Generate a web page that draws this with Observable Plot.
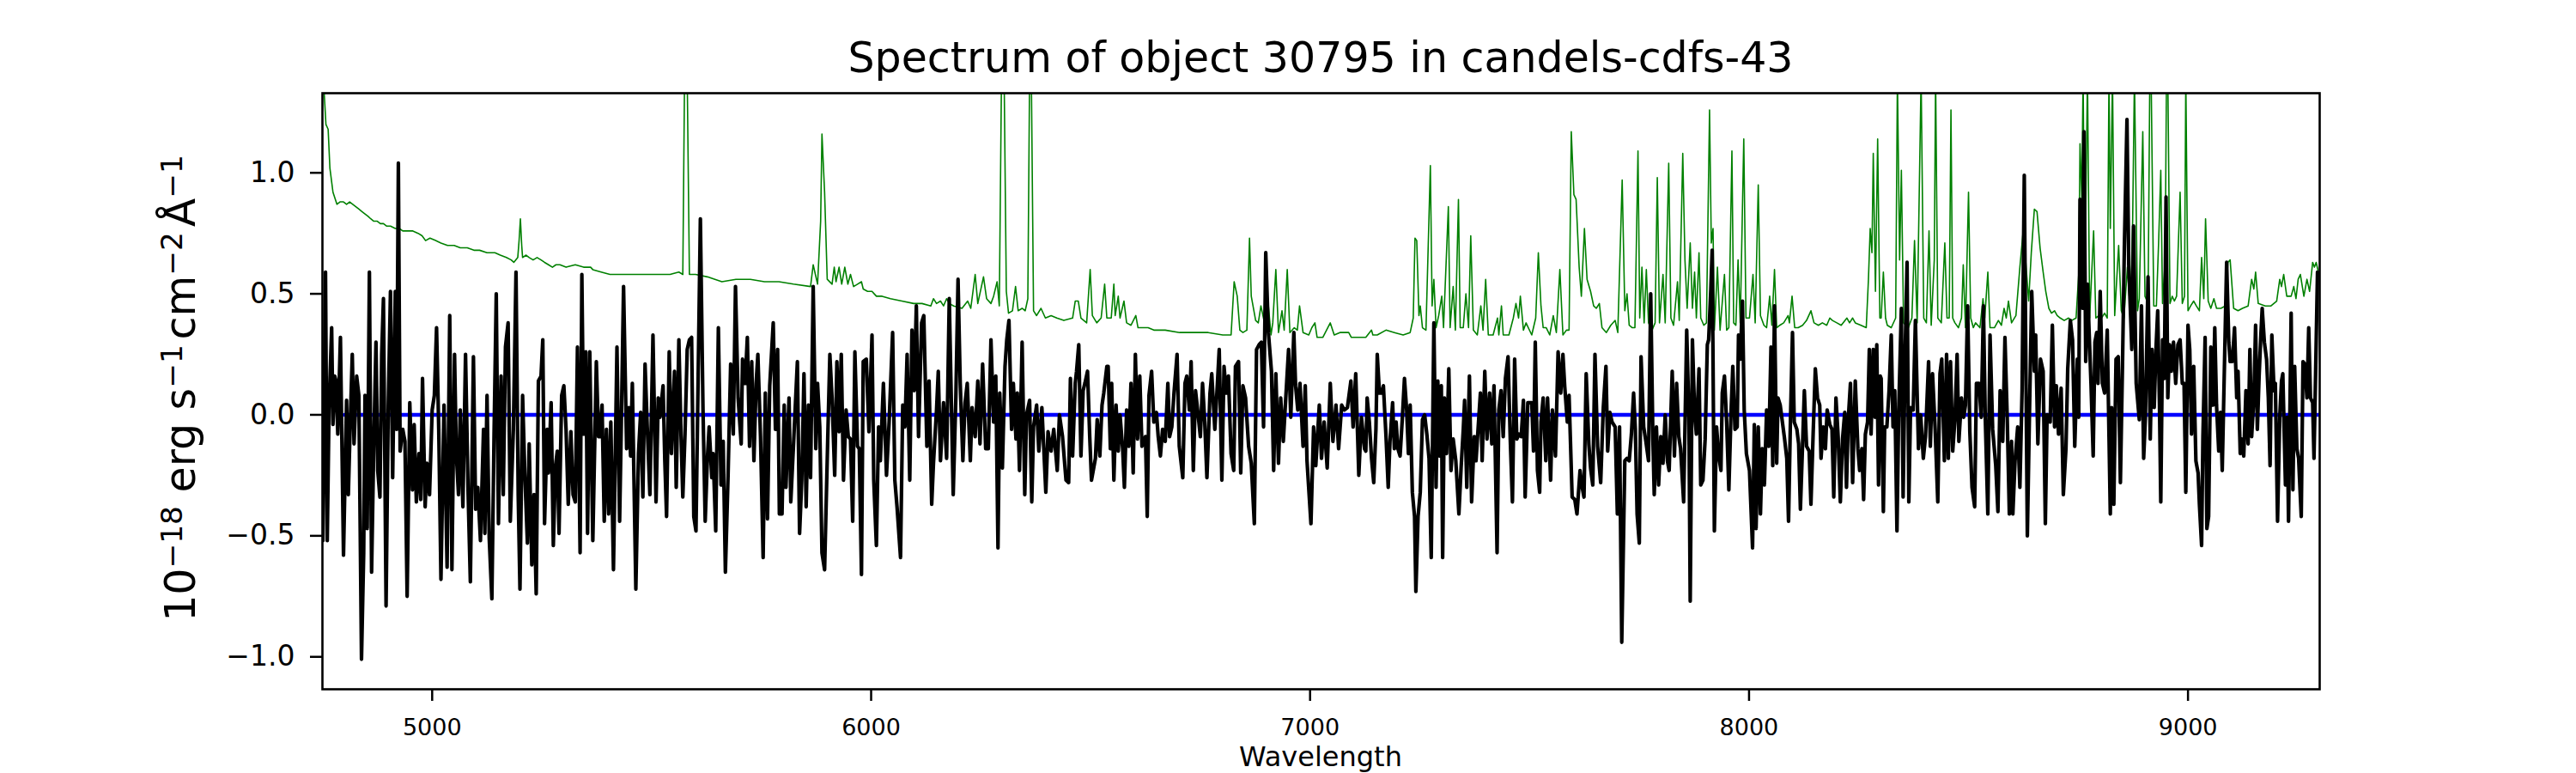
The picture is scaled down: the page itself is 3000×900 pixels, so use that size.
<!DOCTYPE html>
<html><head><meta charset="utf-8">
<script src="https://cdn.jsdelivr.net/npm/d3@7"></script>
<script src="https://cdn.jsdelivr.net/npm/@observablehq/plot@0.6"></script>
<style>
html,body{margin:0;padding:0;background:#fff;}
#chart{position:relative;width:3000px;height:900px;}
</style></head><body><div id="chart"></div>
<script>
const titleText = "Spectrum of object 30795 in candels-cdfs-43";
const xLabel = "Wavelength";
const xTicks = [5000, 6000, 7000, 8000, 9000];
const yTicks = [-1, -0.5, 0, 0.5, 1];
const xDomain = [4750, 9300];
const yDomain = [-1.134, 1.329];
const zeroLine = [[4800, 0], [9300, 0]];

// sky / error spectrum (green), [wavelength, value]
const skySpectrum = [
[4751,1.4],[4754,1.33],[4758,1.20],[4763,1.18],[4767,1.02],[4774,0.92],[4783,0.87],[4790,0.88],[4798,0.88],[4805,0.87],[4812,0.88],[4819,0.87],[4826,0.86],[4833,0.85],[4840,0.84],[4847,0.83],[4854,0.82],[4860,0.81],[4867,0.80],[4875,0.80],[4882,0.79],[4889,0.79],[4896,0.78],[4905,0.78],[4916,0.77],[4925,0.77],[4933,0.76],[4942,0.76],[4955,0.76],[4968,0.75],[4977,0.74],[4985,0.72],[4995,0.73],[5008,0.72],[5020,0.71],[5035,0.70],[5050,0.70],[5064,0.69],[5080,0.69],[5095,0.68],[5108,0.68],[5125,0.67],[5143,0.67],[5155,0.66],[5169,0.65],[5180,0.64],[5186,0.63],[5195,0.65],[5198,0.72],[5201,0.81],[5204,0.70],[5206,0.65],[5214,0.66],[5221,0.65],[5230,0.64],[5239,0.65],[5248,0.64],[5256,0.63],[5265,0.62],[5274,0.61],[5282,0.62],[5291,0.62],[5305,0.61],[5326,0.62],[5345,0.61],[5361,0.61],
[5366,0.60],[5385,0.59],[5405,0.58],[5430,0.58],[5464,0.58],[5500,0.58],[5542,0.58],[5562,0.59],[5571,0.58],[5575,1.4],[5581,1.4],[5586,0.58],[5600,0.58],[5627,0.57],[5660,0.55],[5692,0.56],[5725,0.56],[5757,0.55],[5790,0.55],[5823,0.54],[5862,0.53],[5868,0.62],[5878,0.54],[5885,0.80],[5888,1.16],[5894,0.92],[5900,0.56],[5911,0.54],[5916,0.61],[5920,0.55],[5927,0.61],[5933,0.54],[5940,0.61],[5947,0.54],[5953,0.58],[5960,0.53],
[5969,0.54],[5978,0.55],[5982,0.52],[5992,0.51],[6002,0.51],[6012,0.49],[6025,0.49],[6044,0.48],[6070,0.47],[6097,0.46],[6116,0.46],[6136,0.45],[6142,0.48],[6149,0.46],[6158,0.47],[6165,0.45],[6172,0.48],[6178,0.46],[6188,0.45],[6207,0.44],[6220,0.47],[6227,0.44],[6237,0.58],[6243,0.46],[6256,0.57],[6263,0.48],[6273,0.46],[6279,0.49],[6287,0.55],[6292,0.45],[6297,1.4],[6303,1.4],[6308,0.51],[6313,0.42],[6322,0.43],[6329,0.53],[6335,0.43],[6344,0.44],[6351,0.43],[6357,0.48],[6361,1.4],[6365,1.4],[6370,0.43],[6377,0.41],[6387,0.44],[6397,0.40],[6410,0.41],[6423,0.40],[6439,0.39],[6459,0.40],[6465,0.47],[6472,0.47],[6478,0.40],[6491,0.38],[6499,0.60],[6504,0.41],[6514,0.38],[6524,0.40],[6532,0.54],[6537,0.40],
[6547,0.40],[6553,0.54],[6556,0.41],[6563,0.49],[6567,0.40],[6576,0.47],[6582,0.38],[6592,0.37],[6603,0.41],[6608,0.36],[6631,0.36],[6644,0.35],[6670,0.35],[6703,0.34],[6736,0.34],[6768,0.34],[6801,0.33],[6820,0.33],[6827,0.55],[6834,0.49],[6840,0.35],[6847,0.34],[6856,0.35],[6862,0.73],[6866,0.49],[6876,0.39],[6882,0.38],[6888,0.45],[6896,0.38],[6905,0.45],[6911,0.33],[6915,0.38],[6922,0.60],[6928,0.34],[6936,0.43],[6941,0.35],[6948,0.60],[6954,0.34],[6964,0.36],[6971,0.35],[6976,0.45],[6984,0.34],[6997,0.33],[7004,0.36],[7011,0.38],[7016,0.32],[7029,0.32],[7046,0.38],[7055,0.33],[7068,0.34],[7088,0.34],[7094,0.32],[7127,0.32],[7140,0.35],
[7143,0.33],[7153,0.33],[7173,0.35],[7192,0.34],[7212,0.33],[7228,0.34],[7235,0.40],[7239,0.73],[7243,0.72],[7248,0.41],[7251,0.45],[7256,0.36],[7264,0.35],[7274,1.03],[7278,0.45],[7282,0.56],[7287,0.36],[7293,0.41],[7300,0.49],[7304,0.36],[7315,0.86],[7319,0.36],[7326,0.53],[7331,0.35],[7338,0.89],[7342,0.36],[7349,0.36],[7355,0.50],[7361,0.36],[7366,0.74],[7372,0.35],[7381,0.33],[7389,0.45],[7394,0.35],[7400,0.56],[7406,0.33],[7417,0.33],[7427,0.40],[7430,0.33],[7436,0.45],[7440,0.33],[7453,0.33],[7463,0.40],[7469,0.46],[7475,0.40],[7479,0.49],[7486,0.35],[7492,0.38],[7505,0.33],[7514,0.40],[7520,0.67],[7526,0.45],[7531,0.36],[7538,0.36],[7546,0.33],[7554,0.41],[7561,0.34],[7569,0.60],[7576,0.33],[7584,0.35],[7590,0.35],[7595,1.17],[7601,0.91],[7606,0.89],[7613,0.61],[7618,0.49],[7625,0.77],[7631,0.56],[7639,0.51],[7646,0.45],[7652,0.44],[7659,0.46],[7665,0.36],[7675,0.34],[7685,0.37],[7695,0.39],[7701,0.34],[7711,0.97],[7717,0.43],[7722,0.50],[7727,0.37],
[7734,0.36],[7740,0.36],[7747,1.09],[7751,0.40],[7756,0.61],[7761,0.38],[7766,0.60],[7771,0.38],[7779,0.35],[7786,0.38],[7791,0.98],[7796,0.38],[7804,0.58],[7809,0.38],[7817,1.04],[7822,0.40],[7828,0.37],[7837,0.55],[7841,0.39],[7849,1.08],[7854,0.64],[7859,0.44],[7866,0.71],[7871,0.44],[7876,0.59],[7880,0.40],[7886,0.67],[7890,0.40],[7897,0.37],[7903,0.38],[7910,1.26],[7914,0.71],[7918,0.77],[7921,0.35],[7928,0.61],[7934,0.35],[7944,0.58],[7949,0.35],[7954,0.36],[7961,1.09],[7965,0.38],[7970,0.37],[7975,0.64],[7980,0.38],[7988,1.14],[7993,0.40],[8001,0.40],[8009,0.58],[8014,0.38],[8021,0.95],[8026,0.41],[8034,0.37],[8040,0.36],[8047,0.49],[8052,0.37],[8058,0.60],[8063,0.36],[8070,0.37],[8079,0.38],[8089,0.41],[8092,0.38],[8098,0.49],[8104,0.36],[8112,0.36],[8122,0.37],[8131,0.39],[8141,0.43],[8148,0.38],[8158,0.37],[8167,0.38],[8177,0.37],[8184,0.40],[8190,0.39],[8200,0.38],[8210,0.37],[8223,0.40],[8229,0.38],[8236,0.40],[8242,0.38],[8255,0.37],[8267,0.36],[8272,0.56],[8276,0.77],[8280,0.67],[8283,1.08],[8288,0.51],[8293,1.14],[8298,0.40],
[8301,0.40],[8306,0.59],[8311,0.40],[8315,0.37],[8324,0.36],[8334,0.40],[8338,1.4],[8343,0.64],[8347,1.01],[8352,0.38],[8363,0.36],[8371,0.40],[8377,0.72],[8383,0.38],[8392,1.4],[8398,0.40],[8404,0.38],[8410,0.76],[8415,0.37],[8422,0.64],[8425,1.4],[8430,0.40],[8438,0.38],[8446,0.71],[8451,0.40],[8456,0.40],[8460,1.26],[8464,0.40],[8469,0.38],[8477,0.36],[8484,0.40],[8488,0.62],[8493,0.36],[8500,0.92],[8505,0.40],[8511,0.36],[8516,0.38],[8526,0.36],[8533,0.48],[8537,0.40],[8544,0.59],[8549,0.36],[8559,0.36],[8568,0.39],[8575,0.37],[8581,0.44],[8586,0.40],[8591,0.47],[8598,0.38],[8608,0.41],[8617,0.61],[8624,0.75],[8630,0.64],[8637,0.47],[8643,0.67],[8650,0.85],[8656,0.84],[8663,0.69],[8670,0.59],[8676,0.51],[8683,0.44],[8689,0.42],[8696,0.43],[8702,0.41],[8709,0.40],[8718,0.39],[8728,0.40],[8735,0.39],[8745,0.40],[8751,0.58],[8754,1.12],[8758,0.89],[8761,1.4],[8765,0.56],[8771,1.4],[8776,0.40],[8785,0.76],[8790,0.40],[8797,0.41],[8803,0.40],[8810,0.42],[8816,0.40],[8820,1.4],[8823,0.77],[8828,1.4],[8833,0.41],[8842,0.70],[8848,0.43],[8854,0.40],[8862,0.61],[8869,0.41],[8874,0.81],[8878,1.4],[8885,0.43],
[8889,0.48],[8897,1.17],[8902,0.49],[8909,0.46],[8913,1.4],[8916,1.4],[8922,0.45],[8928,0.45],[8933,0.71],[8938,1.01],[8942,0.46],[8948,0.64],[8951,1.4],[8954,1.4],[8959,0.46],[8964,0.49],[8969,0.47],[8974,0.49],[8982,0.92],[8987,0.46],[8992,0.49],[8995,1.4],[9000,0.43],[9006,0.45],[9013,0.47],[9019,0.45],[9026,0.43],[9031,0.65],[9036,0.48],[9040,0.81],[9046,0.47],[9052,0.44],[9059,0.48],[9065,0.44],[9075,0.44],[9085,0.45],[9091,0.63],[9096,0.64],[9104,0.44],[9114,0.43],[9124,0.44],[9137,0.45],[9145,0.56],[9150,0.52],[9154,0.59],[9160,0.46],[9176,0.45],[9189,0.45],[9202,0.47],[9209,0.56],[9213,0.53],[9218,0.58],[9225,0.49],[9235,0.49],[9241,0.53],[9246,0.48],[9251,0.56],[9256,0.58],[9264,0.49],[9271,0.56],[9277,0.51],[9284,0.63],[9288,0.61],[9292,0.63],[9297,0.59]
];

// object spectrum (black), [wavelength, flux]
const objectSpectrum = [
[4751,-0.52],[4757,0.59],[4761,-0.52],[4765,0.02],[4771,0.36],[4774,-0.04],[4778,0.16],[4781,0.14],[4785,-0.08],[4791,0.32],[4798,-0.58],[4805,0.06],[4809,-0.33],[4813,-0.06],[4818,0.25],[4822,-0.12],[4828,0.16],[4833,0.08],[4839,-1.01],[4844,-0.57],[4847,0.08],[4852,-0.47],[4857,0.59],[4862,-0.65],[4867,-0.12],[4872,0.30],[4876,-0.23],[4881,-0.34],[4885,0.25],[4889,0.48],[4895,-0.79],[4900,0.04],[4905,0.51],[4910,-0.26],[4916,0.51],[4919,-0.06],[4923,1.04],[4927,-0.15],[4933,-0.06],[4938,-0.11],[4943,-0.75],[4949,0.05],[4955,-0.31],[4959,-0.04],[4964,-0.36],[4970,-0.16],[4974,-0.35],[4978,0.15],[4984,-0.38],[4988,-0.20],[4994,-0.33],[5000,0.02],[5005,0.08],[5010,0.36],[5015,-0.06],[5020,-0.68],[5027,0.04],[5034,-0.63],[5040,0.41],[5045,-0.64],[5051,0.25],[5055,-0.16],[5060,-0.33],[5064,0.02],[5070,-0.38],[5076,0.25],[5082,-0.33],[5087,-0.69],[5094,0.24],[5099,-0.39],[5104,-0.30],[5110,-0.52],[5117,-0.06],[5120,-0.49],[5125,0.08],[5130,-0.51],[5136,-0.76],[5141,-0.08],[5146,0.50],[5151,-0.45],[5157,0.16],[5162,-0.33],[5167,0.28],[5173,0.38],[5178,-0.44],[5185,-0.06],[5191,0.59],[5196,-0.33],[5200,-0.72],[5206,0.08],[5211,-0.24],[5217,-0.53],[5221,-0.12],[5227,-0.62],[5232,-0.33],[5237,-0.74],[5242,0.14],[5248,0.16],[5252,0.31],[5256,-0.45],[5262,-0.06],[5265,-0.24],[5271,0.05],[5276,-0.54],[5281,-0.21],[5285,-0.15],[5289,-0.49],[5295,0.08],[5300,0.12],[5305,-0.06],[5310,-0.37],[5316,-0.07],[5321,-0.33],[5326,-0.36],[5331,0.28],[5337,-0.57],[5341,0.58],[5345,-0.08],[5350,0.26],[5354,-0.49],[5359,0.26],
[5366,-0.52],[5374,0.22],[5379,-0.09],[5382,-0.09],[5387,0.04],[5392,-0.44],[5397,-0.06],[5402,-0.41],[5407,-0.03],[5413,-0.64],[5421,0.28],[5427,-0.44],[5431,-0.03],[5436,0.53],[5443,-0.14],[5448,0.03],[5452,-0.17],[5456,0.13],[5464,-0.72],[5470,-0.16],[5475,0.01],[5480,-0.34],[5485,0.21],[5490,-0.05],[5496,-0.33],[5503,0.33],[5510,-0.36],[5515,0.07],[5519,-0.01],[5526,0.12],[5530,-0.19],[5534,-0.42],[5540,0.26],[5545,-0.16],[5552,0.18],[5556,-0.30],[5562,0.31],[5567,-0.09],[5571,-0.34],[5576,-0.08],[5581,0.27],[5586,0.31],[5591,0.32],[5596,-0.42],[5601,-0.48],[5611,0.81],[5617,0.02],[5622,-0.44],[5627,-0.18],[5631,-0.05],[5637,-0.26],[5640,-0.16],[5646,-0.48],[5652,0.36],[5658,-0.29],[5663,-0.11],[5668,-0.65],[5674,-0.26],[5680,0.21],[5686,-0.08],[5691,0.53],[5697,0.07],[5704,-0.12],[5707,0.23],[5713,0.13],[5718,0.32],[5723,-0.13],[5728,0.22],[5733,-0.19],[5738,0.13],[5742,0.25],[5748,-0.09],[5754,-0.59],[5759,0.09],[5764,-0.43],[5769,0.12],[5777,0.38],[5782,-0.06],[5787,0.27],[5791,-0.41],[5797,-0.41],[5802,0.04],[5806,-0.30],[5813,0.07],[5817,-0.36],[5823,-0.13],[5832,0.22],[5837,-0.49],[5842,-0.27],[5847,0.17],[5852,-0.38],[5857,0.04],[5862,-0.26],[5868,0.53],[5874,-0.14],[5878,0.13],[5883,-0.05],[5888,-0.57],[5894,-0.64],[5901,-0.11],[5906,0.25],[5911,0.07],[5917,-0.25],[5922,0.22],[5927,-0.07],[5932,0.25],[5937,-0.27],[5943,0.02],[5948,-0.09],
[5953,-0.10],[5958,-0.44],[5963,0.26],[5969,-0.13],[5973,-0.14],[5978,-0.66],[5982,0.22],[5989,0.23],[5995,-0.07],[6002,0.33],[6006,-0.27],[6012,-0.54],[6017,-0.05],[6021,-0.19],[6028,0.13],[6035,-0.25],[6041,-0.03],[6049,0.34],[6054,-0.27],[6059,-0.38],[6067,-0.59],[6072,0.04],[6077,-0.05],[6082,0.25],[6088,-0.27],[6093,0.35],[6098,0.10],[6103,0.45],[6108,-0.09],[6115,0.38],[6120,0.41],[6127,-0.13],[6132,0.14],[6138,-0.37],[6142,-0.20],[6149,0.02],[6153,0.18],[6158,-0.19],[6165,0.05],[6172,-0.18],[6178,0.48],[6187,-0.33],[6193,0.07],[6198,0.56],[6203,0.13],[6209,-0.19],[6214,0.05],[6219,0.13],[6226,-0.19],[6230,0.03],[6237,-0.09],[6243,0.14],[6248,-0.12],[6254,0.21],[6261,-0.14],[6267,-0.14],[6273,0.31],[6279,-0.03],[6284,0.16],[6289,-0.55],[6293,0.09],[6299,-0.22],[6305,0.20],[6309,0.31],[6314,0.39],[6320,-0.06],[6324,0.13],[6330,-0.10],[6333,0.09],[6338,-0.23],[6344,0.30],[6350,-0.33],[6354,0.00],[6361,0.06],[6366,-0.36],[6370,-0.05],[6377,0.04],[6382,-0.15],[6389,0.03],[6398,-0.32],[6403,-0.07],[6410,-0.15],[6416,-0.06],[6424,-0.23],[6429,0.00],[6436,-0.09],[6444,-0.27],[6450,-0.28],[6454,0.15],[6459,-0.17],[6465,0.13],[6468,0.18],[6473,0.29],[6478,-0.17],[6483,0.10],[6487,0.13],[6493,0.18],[6498,-0.09],[6502,-0.27],[6511,-0.18],[6515,-0.02],[6521,-0.17],[6526,0.04],[6530,0.09],[6537,0.20],
[6540,0.20],[6545,-0.14],[6548,0.13],[6553,-0.27],[6558,0.04],[6563,-0.15],[6567,0.00],[6573,-0.14],[6577,-0.30],[6582,0.02],[6587,-0.13],[6592,0.13],[6597,-0.24],[6602,0.25],[6607,-0.10],[6612,0.16],[6617,-0.13],[6625,-0.09],[6629,-0.42],[6633,0.08],[6639,0.18],[6644,-0.03],[6650,0.01],[6654,-0.09],[6659,-0.17],[6664,-0.06],[6670,-0.11],[6676,0.13],[6680,-0.09],[6685,-0.05],[6690,0.09],[6697,0.25],[6702,-0.13],[6710,-0.26],[6715,0.13],[6719,0.16],[6725,0.02],[6729,0.22],[6734,-0.23],[6739,0.10],[6745,0.00],[6750,-0.09],[6755,0.13],[6760,-0.03],[6765,-0.26],[6772,0.09],[6776,0.17],[6783,-0.06],[6788,0.10],[6793,0.27],[6799,-0.27],[6804,0.20],[6809,0.09],[6814,0.16],[6820,-0.16],[6826,-0.23],[6830,0.20],[6837,0.22],[6842,-0.24],[6847,0.12],[6853,0.07],[6860,-0.13],[6866,-0.20],[6873,-0.45],[6878,0.27],[6884,0.29],[6889,0.30],[6894,-0.05],[6899,0.67],[6905,0.34],[6912,0.18],[6917,-0.23],[6922,0.17],[6928,-0.20],[6933,0.07],[6939,-0.11],[6944,0.05],[6951,0.27],[6956,-0.01],[6963,0.34],[6967,0.12],[6972,0.02],[6977,0.13],[6984,-0.13],[6989,0.12],[6993,-0.19],[7002,-0.45],[7008,-0.05],[7013,-0.21],[7021,0.04],[7026,-0.18],[7032,-0.03],[7039,-0.22],[7046,0.13],[7052,-0.11],[7059,0.04],[7065,-0.14],[7072,0.04],[7078,0.02],[7085,0.03],[7093,0.14],[7098,-0.05],[7104,0.17],[7111,-0.25],[7117,-0.01],[7124,-0.14],
[7127,-0.15],[7130,0.07],[7135,-0.03],[7140,-0.18],[7145,-0.28],[7150,-0.06],[7153,0.25],[7158,0.09],[7163,0.09],[7167,0.12],[7173,-0.09],[7178,-0.30],[7182,-0.11],[7188,0.05],[7192,-0.14],[7196,-0.03],[7200,-0.14],[7205,-0.17],[7210,-0.02],[7215,0.15],[7220,0.02],[7224,-0.16],[7228,0.04],[7233,-0.32],[7238,-0.42],[7241,-0.73],[7246,-0.42],[7251,-0.32],[7256,-0.02],[7261,0.00],[7266,-0.08],[7271,-0.18],[7276,-0.59],[7282,0.38],[7287,-0.30],[7291,0.14],[7295,-0.17],[7299,0.12],[7302,-0.59],[7306,0.07],[7311,-0.16],[7316,0.19],[7321,-0.23],[7326,-0.10],[7332,-0.19],[7339,-0.41],[7344,-0.22],[7349,-0.06],[7352,0.06],[7357,-0.30],[7363,0.16],[7368,-0.36],[7374,-0.09],[7378,-0.19],[7383,-0.05],[7388,0.09],[7392,-0.19],[7398,0.18],[7403,-0.10],[7409,0.09],[7414,-0.12],[7419,0.12],[7426,-0.57],[7430,0.02],[7435,0.10],[7440,-0.09],[7445,0.15],[7451,0.24],[7456,-0.10],[7461,-0.36],[7466,0.23],[7471,-0.10],[7476,-0.08],[7481,-0.09],[7486,0.06],[7490,-0.34],[7496,0.05],[7500,0.05],[7505,0.05],[7509,-0.15],[7513,0.30],[7518,-0.23],[7523,-0.32],[7526,-0.03],[7531,0.07],[7537,-0.19],[7541,0.07],[7548,-0.27],[7552,0.02],[7559,-0.17],[7565,0.26],[7571,0.09],[7576,0.25],[7580,0.12],[7586,-0.03],[7590,0.08],[7597,-0.34],[7603,-0.35],[7608,-0.41],[7615,-0.23],[7620,-0.30],[7624,-0.34],[7629,0.17],[7635,-0.12],[7639,-0.22],[7644,-0.29],[7649,0.25],[7655,-0.13],[7662,-0.28],[7668,0.03],[7674,0.20],[7678,-0.15],[7683,0.01],[7688,-0.03],[7695,-0.05],[7700,-0.41],[7705,-0.05],[7710,-0.94],
[7717,-0.19],[7722,-0.18],[7727,-0.19],[7732,-0.08],[7737,0.09],[7741,-0.06],[7745,-0.41],[7750,-0.53],[7754,0.24],[7760,-0.05],[7765,-0.11],[7771,-0.19],[7776,0.50],[7781,-0.10],[7784,-0.33],[7789,-0.05],[7794,-0.29],[7799,-0.09],[7804,-0.20],[7809,0.00],[7814,-0.19],[7818,-0.23],[7825,0.18],[7830,-0.17],[7835,0.13],[7840,-0.09],[7844,-0.14],[7851,-0.36],[7858,0.35],[7863,0.00],[7866,-0.77],[7871,0.31],[7876,0.01],[7880,-0.08],[7886,0.19],[7890,-0.29],[7895,-0.27],[7900,-0.10],[7905,0.29],[7908,0.31],[7913,0.52],[7916,0.68],[7921,-0.48],[7926,-0.05],[7931,-0.17],[7936,-0.23],[7939,0.09],[7944,0.16],[7949,-0.03],[7954,-0.31],[7959,0.01],[7963,0.20],[7968,-0.06],[7973,-0.05],[7976,0.33],[7980,0.23],[7985,0.47],[7989,0.02],[7994,-0.16],[8001,-0.23],[8008,-0.55],[8012,-0.04],[8016,-0.47],[8021,-0.05],[8026,-0.41],[8030,-0.14],[8035,-0.29],[8040,0.02],[8045,-0.13],[8050,0.28],[8054,-0.21],[8058,0.45],[8063,-0.20],[8066,0.07],[8071,0.04],[8076,-0.03],[8081,-0.10],[8086,-0.18],[8090,-0.44],[8094,-0.05],[8099,0.34],[8103,-0.03],[8109,-0.06],[8113,-0.12],[8117,-0.39],[8122,-0.12],[8126,0.10],[8131,-0.13],[8137,-0.15],[8141,-0.37],[8146,-0.08],[8151,0.19],[8156,0.07],[8161,0.04],[8164,-0.18],[8169,-0.05],[8174,-0.14],[8178,0.02],[8184,-0.04],[8189,-0.06],[8193,-0.34],[8198,0.07],[8203,-0.09],[8208,-0.36],[8213,-0.10],[8218,0.01],[8222,-0.30],[8226,-0.02],[8231,0.13],[8236,-0.28],[8242,0.14],[8248,-0.14],[8252,-0.23],[8257,-0.14],[8261,-0.35],[8265,-0.08],[8270,-0.03],[8274,0.27],[8278,-0.08],[8283,0.27],[8287,-0.01],[8291,0.29],[8295,-0.29],[8299,0.16],
[8301,0.15],[8306,-0.40],[8309,-0.05],[8314,-0.05],[8319,0.10],[8324,0.33],[8328,-0.05],[8332,0.10],[8337,-0.48],[8341,0.02],[8347,0.44],[8351,-0.34],[8356,0.29],[8360,0.63],[8364,-0.36],[8368,0.03],[8374,0.02],[8379,0.39],[8386,-0.14],[8391,0.00],[8397,-0.18],[8402,-0.09],[8409,0.22],[8413,-0.13],[8418,0.17],[8424,-0.06],[8430,-0.36],[8435,0.17],[8439,0.23],[8445,-0.19],[8450,0.25],[8454,-0.18],[8459,0.22],[8464,-0.15],[8469,-0.02],[8474,0.25],[8478,-0.11],[8484,0.07],[8489,-0.01],[8493,0.04],[8498,0.45],[8503,-0.07],[8508,-0.30],[8514,-0.38],[8518,0.13],[8524,0.13],[8529,-0.01],[8534,0.45],[8538,0.00],[8544,-0.41],[8549,0.33],[8555,-0.06],[8562,-0.21],[8567,-0.40],[8572,0.10],[8578,-0.11],[8583,0.32],[8588,0.00],[8593,-0.41],[8598,-0.11],[8601,-0.41],[8606,-0.19],[8612,-0.05],[8617,-0.30],[8622,0.10],[8627,0.99],[8634,-0.50],[8639,0.02],[8644,0.51],[8650,0.18],[8653,0.33],[8658,-0.12],[8664,0.23],[8670,0.18],[8675,-0.45],[8679,0.00],[8686,-0.03],[8691,0.37],[8696,-0.05],[8700,0.12],[8705,-0.08],[8711,0.11],[8716,-0.33],[8722,-0.14],[8726,0.19],[8732,0.39],[8737,0.31],[8742,-0.13],[8748,0.23],[8751,-0.01],[8754,0.89],[8760,0.44],[8763,1.17],[8767,0.22],[8771,0.54],[8775,0.33],[8779,0.13],[8784,-0.17],[8788,0.30],[8792,0.34],[8795,0.13],[8800,0.51],[8805,0.13],[8810,0.09],[8816,0.35],[8823,-0.41],[8826,0.03],[8831,-0.37],[8836,0.23],[8841,0.24],[8846,-0.28],[8851,0.23],[8855,0.69],[8861,1.22],[8865,0.62],[8872,0.27],[8876,0.78],[8882,0.13],
[8889,-0.02],[8894,0.45],[8899,-0.18],[8903,-0.01],[8909,0.57],[8914,-0.10],[8918,0.27],[8923,0.03],[8927,0.27],[8931,0.43],[8935,0.04],[8938,-0.36],[8942,0.31],[8946,0.15],[8950,0.90],[8954,0.07],[8958,0.29],[8962,0.18],[8967,0.30],[8972,0.13],[8977,0.29],[8982,0.31],[8987,0.13],[8991,0.13],[8995,-0.32],[9000,0.37],[9004,0.27],[9008,-0.08],[9013,0.20],[9018,-0.19],[9023,-0.24],[9026,-0.37],[9031,-0.54],[9034,-0.09],[9039,0.32],[9043,-0.47],[9047,-0.42],[9052,0.28],[9057,0.04],[9061,0.36],[9065,0.04],[9070,-0.15],[9074,0.01],[9078,-0.23],[9083,0.20],[9088,0.63],[9093,0.30],[9096,0.22],[9101,0.22],[9106,0.36],[9111,0.07],[9114,0.18],[9119,-0.16],[9122,-0.10],[9127,-0.17],[9132,0.10],[9137,-0.12],[9141,0.27],[9145,-0.09],[9150,0.07],[9154,0.37],[9158,-0.06],[9162,0.16],[9166,0.33],[9169,0.44],[9174,0.30],[9179,0.23],[9183,0.07],[9187,-0.21],[9191,0.33],[9196,0.10],[9199,0.13],[9204,-0.44],[9209,-0.01],[9213,0.14],[9216,0.17],[9222,-0.29],[9226,-0.01],[9229,-0.44],[9235,0.42],[9239,-0.31],[9243,0.20],[9248,-0.14],[9252,-0.18],[9258,-0.42],[9262,0.22],[9266,0.21],[9271,0.07],[9275,0.36],[9279,0.07],[9284,0.05],[9287,-0.18],[9291,0.20],[9295,0.59]
];

const toRows = a => a.map(([w, v]) => ({w, v}));
const mL = 375, mR = 299, mT = 108, mB = 98;

const chart = Plot.plot({
  width: 3000, height: 900,
  marginLeft: mL, marginRight: mR, marginTop: mT, marginBottom: mB,
  style: {fontFamily: "DejaVu Sans", background: "white", color: "black", overflow: "visible"},
  x: {domain: xDomain},
  y: {domain: yDomain},
  marks: [
    Plot.line(toRows(skySpectrum), {x: "w", y: "v", stroke: "#008000", strokeWidth: 1.6, clip: true}),
    Plot.line(toRows(zeroLine), {x: "w", y: "v", stroke: "#0000ff", strokeWidth: 4.5, clip: true}),
    Plot.line(toRows(objectSpectrum), {x: "w", y: "v", stroke: "#000000", strokeWidth: 4.2, clip: true}),
    Plot.frame({stroke: "black", strokeWidth: 2.6}),
    Plot.axisX({ticks: xTicks, tickFormat: d => String(d), tickSize: 14, tickPadding: 20, fontSize: 27, strokeWidth: 2.5, label: null}),
    Plot.axisY({ticks: yTicks, tickFormat: d3.format(".1f"), tickSize: 14, tickPadding: 18, fontSize: 33, strokeWidth: 2.5, label: null})
  ]
});
document.getElementById("chart").appendChild(chart);

const svg = d3.select(chart);
const cx = mL + (3000 - mL - mR) / 2;
svg.append("text").attr("x", cx).attr("y", 84).attr("text-anchor", "middle")
  .attr("font-family", "DejaVu Sans").attr("font-size", 49).attr("fill", "black").text(titleText);
svg.append("text").attr("x", cx).attr("y", 892).attr("text-anchor", "middle")
  .attr("font-family", "DejaVu Sans").attr("font-size", 32).attr("fill", "black").text(xLabel);
const cy = 452;
const yl = svg.append("text").attr("transform", `translate(227,${cy}) rotate(-90)`)
  .attr("text-anchor", "middle").attr("font-family", "DejaVu Sans").attr("font-size", 49).attr("fill", "black");
const parts = [["10", false], ["\u221218", true], [" erg s", false], ["\u22121", true], ["cm", false], ["\u22122", true], ["\u00c5", false], ["\u22121", true]];
let prevSup = false;
for (const [t, sup] of parts) {
  const ts = yl.append("tspan").text(t);
  if (sup && !prevSup) ts.attr("dy", "-0.45em").attr("font-size", "0.7em");
  else if (sup) ts.attr("font-size", "0.7em");
  if (!sup && prevSup) {
    ts.attr("dy", "0.315em");
    if (!t.startsWith(" ")) ts.attr("dx", "0.12em");
  }
  prevSup = sup;
}
</script></body></html>
